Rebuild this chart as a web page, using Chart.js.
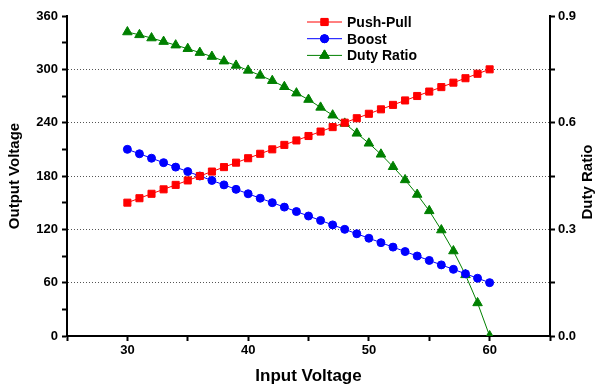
<!DOCTYPE html>
<html>
<head>
<meta charset="utf-8">
<script src="https://cdn.jsdelivr.net/npm/chart.js@4"></script>
<style>
  body { margin: 0; background: #fff; }
</style>
</head>
<body>
<canvas id="chart" width="597" height="387"></canvas>
<script>
// input voltage (x)
var vin = [30, 31, 32, 33, 34, 35, 36, 37, 38, 39, 40, 41, 42, 43, 44, 45,
  46, 47, 48, 49, 50, 51, 52, 53, 54, 55, 56, 57, 58, 59, 60];
// output voltages (left axis)
var pushPull = [150, 155, 160, 165, 170, 175, 180, 185, 190, 195, 200, 205, 210, 215, 220, 225,
  230, 235, 240, 245, 250, 255, 260, 265, 270, 275, 280, 285, 290, 295, 300];
var boost = [210, 205, 200, 195, 190, 185, 180, 175, 170, 165, 160, 155, 150, 145, 140, 135,
  130, 125, 120, 115, 110, 105, 100, 95, 90, 85, 80, 75, 70, 65, 60];
// duty ratio (right axis)
var duty = [0.855, 0.847, 0.838, 0.828, 0.818, 0.808, 0.797, 0.786, 0.773, 0.761, 0.747, 0.733,
  0.718, 0.701, 0.683, 0.665, 0.643, 0.621, 0.598, 0.570, 0.542, 0.511, 0.476, 0.439, 0.398,
  0.352, 0.298, 0.239, 0.172, 0.093, 0.0];

var FONT = "'Liberation Sans', Arial, sans-serif";

function pts(ys) {
  return vin.map((v, i) => ({ x: v, y: ys[i] }));
}

// legend with line + marker, and right title reading bottom-to-top
var extras = {
  id: 'extras',
  afterDraw(chart) {
    var ctx = chart.ctx;
    var a = chart.chartArea;
    ctx.save();
    var lx = 307, ly = 22;
    chart.data.datasets.forEach((ds, i) => {
      var y = ly + i * 16.7;
      ctx.strokeStyle = ds.borderColor;
      ctx.lineWidth = 1;
      ctx.beginPath();
      ctx.moveTo(lx, y);
      ctx.lineTo(lx + 35, y);
      ctx.stroke();
      Chart.helpers.drawPoint(ctx, {
        pointStyle: ds.pointStyle, radius: ds.pointRadius, borderWidth: 1
      }, lx + 17.5, y);
      ctx.fillStyle = ds.borderColor;
      ctx.strokeStyle = ds.borderColor;
      ctx.beginPath();
      Chart.helpers.drawPoint(ctx, {
        pointStyle: ds.pointStyle, radius: ds.pointRadius, borderWidth: 1
      }, lx + 17.5, y);
      ctx.fillStyle = '#000';
      ctx.font = 'bold 14px ' + FONT;
      ctx.textBaseline = 'middle';
      ctx.textAlign = 'left';
      ctx.fillText(ds.label, lx + 40, y + 1);
    });
    // right axis title
    ctx.translate(588, (a.top + a.bottom) / 2 + 6);
    ctx.rotate(-Math.PI / 2);
    ctx.font = 'bold 15px ' + FONT;
    ctx.textAlign = 'center';
    ctx.textBaseline = 'middle';
    ctx.fillStyle = '#000';
    ctx.fillText('Duty Ratio', 0, 0);
    ctx.restore();
  }
};

var tickFont = { family: FONT, size: 13, weight: 'bold' };

var chart = new Chart('chart', {
  type: 'line',
  data: {
    datasets: [
      {
        label: 'Push-Pull',
        data: pts(pushPull),
        yAxisID: 'y',
        borderColor: '#ff0000',
        backgroundColor: '#ff0000',
        pointStyle: 'rect',
        pointRadius: 5,
        borderWidth: 1
      },
      {
        label: 'Boost',
        data: pts(boost),
        yAxisID: 'y',
        borderColor: '#0000ff',
        backgroundColor: '#0000ff',
        pointStyle: 'circle',
        pointRadius: 4,
        borderWidth: 1
      },
      {
        label: 'Duty Ratio',
        data: pts(duty),
        yAxisID: 'y1',
        borderColor: '#008000',
        backgroundColor: '#008000',
        pointStyle: 'triangle',
        pointRadius: 5.5,
        borderWidth: 1
      }
    ]
  },
  options: {
    responsive: false,
    animation: false,
    layout: { padding: { top: 16, left: 0, right: 0, bottom: 0 } },
    plugins: {
      legend: { display: false },
      tooltip: { enabled: false }
    },
    scales: {
      x: {
        type: 'linear',
        min: 25,
        max: 65,
        afterFit: s => { s.height = 51; },
        ticks: {
          stepSize: 5,
          autoSkip: false,
          maxRotation: 0,
          padding: 2,
          color: '#000',
          font: tickFont,
          callback: v => (v % 10 === 0 && v >= 30 && v <= 60) ? v : ''
        },
        grid: { drawOnChartArea: false, tickLength: 5, tickWidth: 2, tickColor: '#000' },
        border: { color: '#000', width: 2 },
        title: {
          display: true,
          text: 'Input Voltage',
          color: '#000',
          font: { family: FONT, size: 17, weight: 'bold' },
          padding: { top: 0, bottom: 0 }
        }
      },
      y: {
        position: 'left',
        min: 0,
        max: 360,
        afterFit: s => { s.width = 67; },
        ticks: {
          stepSize: 30,
          autoSkip: false,
          padding: 4,
          color: '#000',
          font: tickFont,
          callback: v => v % 60 === 0 ? v : ''
        },
        grid: {
          color: c => (c.tick && c.tick.value % 60 === 0 && c.tick.value > 0 && c.tick.value < 360) ? '#555' : 'rgba(0,0,0,0)',
          lineWidth: 1,
          tickLength: 5,
          tickWidth: 2,
          tickColor: '#000'
        },
        border: { color: '#000', width: 2, dash: [1, 2] },
        title: {
          display: true,
          text: 'Output Voltage',
          color: '#000',
          font: { family: FONT, size: 15, weight: 'bold' },
          padding: { top: 6, bottom: 0 }
        }
      },
      y1: {
        position: 'right',
        min: 0,
        max: 0.9,
        afterFit: s => { s.width = 47; },
        ticks: {
          stepSize: 0.15,
          autoSkip: false,
          padding: 3,
          color: '#000',
          font: tickFont,
          callback: v => Math.round(v * 100) % 30 === 0 ? v.toFixed(1) : ''
        },
        grid: { drawOnChartArea: false, tickLength: 5, tickWidth: 2, tickColor: '#000' },
        border: { color: '#000', width: 2 }
      }
    }
  },
  plugins: [extras]
});
</script>
</body>
</html>
